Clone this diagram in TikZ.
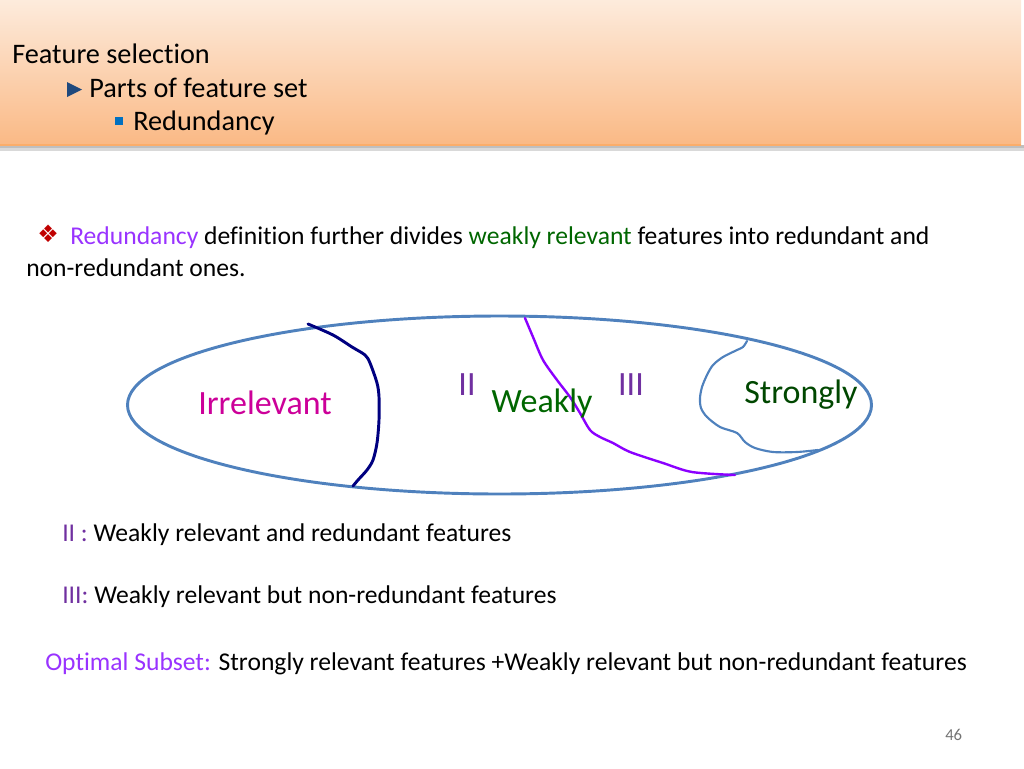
\documentclass[tikz,border=0pt]{standalone}
\usepackage{fontspec}
\setmainfont{Carlito}[Ligatures=NoCommon]
\newfontfamily\symfont{DejaVu Sans}
\definecolor{headtop}{HTML}{FDEBDC}
\definecolor{headbot}{HTML}{FAB985}
\definecolor{ringblue}{HTML}{4F81BD}
\definecolor{navyline}{HTML}{000080}
\definecolor{violetline}{HTML}{8B00FF}
\definecolor{redpurple}{HTML}{CC0099}
\definecolor{numpurple}{HTML}{7030A0}
\definecolor{keypurple}{HTML}{9933FF}
\definecolor{darkgreen}{HTML}{006600}
\definecolor{bulletred}{HTML}{C00000}
\definecolor{bulletnavy}{HTML}{1F497D}
\definecolor{bulletblue}{HTML}{0070C0}
\begin{document}
\begin{tikzpicture}[x=0.75pt,y=-0.75pt,
  txt/.style={anchor=base west,inner sep=0pt,font=\fontsize{19.2}{23}\selectfont},
  head/.style={txt,font=\fontsize{21.2}{25}\selectfont},
  lbl/.style={inner sep=0pt,font=\fontsize{25.5}{30}\selectfont},
  scribble/.style={line width=2.2pt,line cap=round,line join=round}]
\useasboundingbox (0,0) rectangle (1024,768);
% header band
\fill[black!15] (0,145) rectangle (1024,151);
\fill[black!25] (0,145) rectangle (1024,148);
\shade[top color=headtop,bottom color=headbot] (0,0) rectangle (1021,145);
\draw[headbot!80!orange,line width=1pt] (0,145) -- (1021,145);
\node[head] (title) at (12,63) {Feature selection};
\node[head] (parts) at (89,97) {Parts of feature set};
\node[head] (redun) at (133,130) {Redundancy};
\fill[bulletnavy] (67,82) -- (82,89.5) -- (67,97) -- cycle;
\fill[bulletblue] (115,117) rectangle (123,125);
% statement
\node[txt,text=bulletred,font=\symfont\fontsize{18}{20}\selectfont] (star) at (37,242) {❖};
\node[txt] (line1) at (70,244) {\textcolor{keypurple}{Redundancy} definition further divides \textcolor{darkgreen}{weakly relevant} features into redundant and};
\node[txt] (line2) at (26,276) {non-redundant ones.};
% feature set
\draw[ringblue,line width=2.2pt] (499.5,405) ellipse (372 and 89);
\draw[scribble,navyline] plot[smooth] coordinates {(308,324) (333,335) (352,347) (365,355) (370,363) (377,383) (379,397) (379,420) (377,443) (373,460) (367,470) (358,480) (353,486)};
\draw[scribble,violetline,line width=1.8pt] plot[smooth] coordinates {(525,318) (533,337) (543,360) (557,380) (570,397) (580,413) (590,430) (600,437) (613,443) (630,452) (663,463) (692,472) (735,475)};
\draw[scribble,ringblue,line width=1.6pt] plot[smooth] coordinates {(747,341) (743,347) (737,350) (723,357) (713,365) (707,375) (702,387) (700,398) (701,408) (707,417) (720,427) (737,433) (745,442) (755,448) (773,452) (797,452) (818,450)};
\node[lbl,text=redpurple] (irr) at (265,403) {Irrelevant};
\node[lbl,text=numpurple] (two) at (467,385) {II};
\node[lbl,text=darkgreen] (weak) at (542,403) {Weakly};
\node[lbl,text=numpurple] (three) at (631,385) {III};
\node[lbl,text=darkgreen!70!black] (strong) at (801,395) {Strongly};
% legend
\node[txt] (leg2) at (62,541) {\textcolor{numpurple}{II :} Weakly relevant and redundant features};
\node[txt] (leg3) at (62,603) {\textcolor{numpurple}{III:} Weakly relevant but non-redundant features};
\node[txt] (opt) at (45,670) {\textcolor{keypurple}{Optimal Subset:} Strongly relevant features +Weakly relevant but non-redundant features};
\node[txt,text=black!55,font=\fontsize{12.5}{15}\selectfont] (page) at (945,740) {46};
\end{tikzpicture}
\end{document}
